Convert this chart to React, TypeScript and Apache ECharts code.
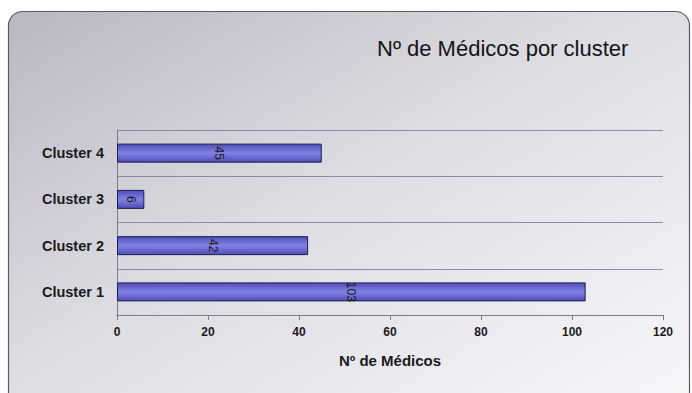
import React, { useEffect, useRef } from "react";
import * as echarts from "echarts";

const categories = ["Cluster 1", "Cluster 2", "Cluster 3", "Cluster 4"];
const medicos = [103, 42, 6, 45];
const xTicks = { min: 0, max: 120, interval: 20 };

const FONT = "'Liberation Sans', Arial, sans-serif";

export default function App() {
  const ref = useRef<HTMLDivElement>(null);

  useEffect(() => {
    if (!ref.current) return;
    const chart = echarts.init(ref.current, undefined, { renderer: "svg" });
    chart.setOption({
      animation: false,
      backgroundColor: "#ffffff",
      graphic: [
        {
          type: "rect",
          z: -10,
          silent: true,
          shape: { x: 8.5, y: 11.5, width: 681, height: 400, r: 14 },
          style: {
            fill: new echarts.graphic.LinearGradient(0, 0, 1, 1, [
              { offset: 0, color: "#b9b8c2" },
              { offset: 0.45, color: "#dddce2" },
              { offset: 1, color: "#f8f7fa" },
            ]),
            stroke: "#5a5a66",
            lineWidth: 1.2,
          },
        },
      ],
      title: {
        text: "Nº de Médicos por cluster",
        left: 372,
        top: 32,
        textStyle: {
          fontFamily: FONT,
          fontSize: 22,
          fontWeight: "normal",
          color: "#141414",
        },
      },
      grid: { left: 117, right: 29, top: 130, bottom: 78, containLabel: false },
      xAxis: {
        type: "value",
        min: xTicks.min,
        max: xTicks.max,
        interval: xTicks.interval,
        name: "Nº de Médicos",
        nameLocation: "middle",
        nameGap: 38,
        nameTextStyle: {
          fontFamily: FONT,
          fontSize: 15,
          fontWeight: "bold",
          color: "#1a1a1a",
        },
        axisLine: { show: true, lineStyle: { color: "#7c7c88", width: 1 } },
        axisTick: { show: true, length: 5, lineStyle: { color: "#7c7c88" } },
        axisLabel: {
          fontFamily: FONT,
          fontSize: 12,
          fontWeight: "bold",
          color: "#1a1a1a",
          margin: 11,
        },
        splitLine: { show: false },
      },
      yAxis: {
        type: "category",
        data: categories,
        axisLine: { show: true, lineStyle: { color: "#7c7c88", width: 1 } },
        axisTick: { show: false },
        axisLabel: {
          fontFamily: FONT,
          fontSize: 14.5,
          fontWeight: "bold",
          color: "#1a1a1a",
          margin: 13,
        },
        splitLine: { show: true, lineStyle: { color: "#8a8ab0", width: 1 } },
      },
      series: [
        {
          type: "bar",
          data: medicos,
          barWidth: 19,
          itemStyle: {
            color: new echarts.graphic.LinearGradient(0, 0, 0, 1, [
              { offset: 0, color: "#4e4eb8" },
              { offset: 0.5, color: "#8282e4" },
              { offset: 1, color: "#4e4eb8" },
            ]),
            borderColor: "#1e1e4a",
            borderWidth: 1,
          },
          label: {
            show: true,
            position: "inside",
            rotate: -90,
            fontFamily: FONT,
            fontSize: 12,
            color: "#1a1a1a",
          },
        },
      ],
    });
    return () => chart.dispose();
  }, []);

  return (
    <div
      ref={ref}
      style={{ position: "absolute", left: 0, top: 0, width: 692, height: 393 }}
    />
  );
}
